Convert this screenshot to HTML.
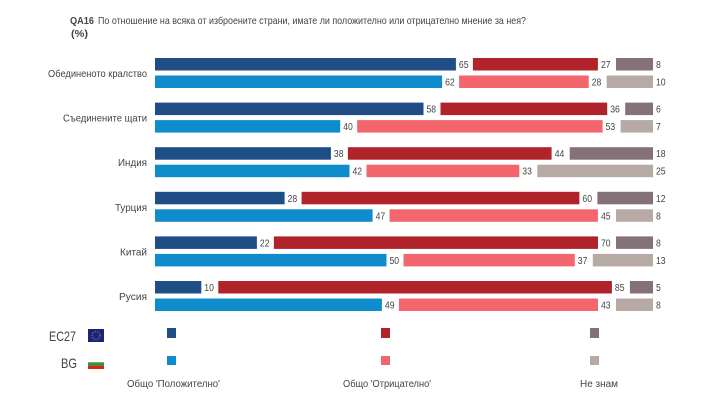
<!DOCTYPE html>
<html><head><meta charset="utf-8"><style>
html,body{margin:0;padding:0;background:#fff;width:728px;height:416px;overflow:hidden}
svg{display:block}
text{font-family:"Liberation Sans Narrow","Liberation Sans",sans-serif;fill:#444}
</style></head><body>
<svg id="s" width="728" height="416" viewBox="0 0 728 416" xmlns="http://www.w3.org/2000/svg">
<text x="70" y="24" font-size="10.5" font-weight="bold" fill="#333" textLength="24" lengthAdjust="spacingAndGlyphs">QA16</text>
<text x="98" y="24" font-size="10.5" fill="#444" textLength="428" lengthAdjust="spacingAndGlyphs">По отношение на всяка от изброените страни, имате ли положително или отрицателно мнение за нея?</text>
<text x="71" y="37" font-size="10.5" font-weight="bold" fill="#333" textLength="17" lengthAdjust="spacingAndGlyphs">(%)</text>
<g id="bars"></g>
<text x="49" y="341" font-size="14" fill="#333" textLength="27" lengthAdjust="spacingAndGlyphs">EC27</text>
<rect x="88" y="329" width="16" height="13" fill="#1a237e"/>
<circle cx="96" cy="335.5" r="4" fill="none" stroke="#e8c800" stroke-width="0.8" stroke-dasharray="0.8 1.2"/>
<text x="61" y="368" font-size="14" fill="#333" textLength="16" lengthAdjust="spacingAndGlyphs">BG</text>
<rect x="88" y="359" width="16" height="3.4" fill="#fff" stroke="#ddd" stroke-width="0.3"/>
<rect x="88" y="362.3" width="16" height="3.4" fill="#2e9a3e"/>
<rect x="88" y="365.6" width="16" height="3.4" fill="#d9261c"/>
<rect x="167" y="328" width="9" height="10" fill="#1f4e87"/>
<rect x="167" y="356" width="9" height="9" fill="#0e8ccb"/>
<rect x="381" y="328" width="9" height="10" fill="#b0232a"/>
<rect x="381" y="356" width="9" height="9" fill="#f4666e"/>
<rect x="590" y="328" width="9" height="10" fill="#857278"/>
<rect x="590" y="356" width="9" height="9" fill="#b7a9a4"/>
<text x="127" y="387" font-size="10.5" textLength="93" lengthAdjust="spacingAndGlyphs">Общо 'Положително'</text>
<text x="343" y="387" font-size="10.5" textLength="88" lengthAdjust="spacingAndGlyphs">Общо 'Отрицателно'</text>
<text x="580" y="387" font-size="10.5" textLength="38" lengthAdjust="spacingAndGlyphs">Не знам</text>
</svg>
<script>
var rows=[["Обединеното кралство",[65,27,8],[62,28,10],99],
["Съединените щати",[58,36,6],[40,53,7],84],
["Индия",[38,44,18],[42,33,25],29],
["Турция",[28,60,12],[47,45,8],32],
["Китай",[22,70,8],[50,37,13],27],
["Русия",[10,85,5],[49,43,8],28]];
var cEC=["#1f4e87","#b0232a","#857278"],cBG=["#0e8ccb","#f4666e","#b7a9a4"];
var k=4.63,h="";
rows.forEach(function(r,i){
 var top=58+i*44.6;
 h+='<text x="'+(147-r[3])+'" y="'+(top+19)+'" font-size="10.5" textLength="'+r[3]+'" lengthAdjust="spacingAndGlyphs">'+r[0]+'</text>';
 [[r[1],cEC,top],[r[2],cBG,top+17.5]].forEach(function(s){
  var x=155,v=s[0];
  for(var j=0;j<3;j++){
   var w=v[j]*k;
   h+='<rect x="'+x.toFixed(1)+'" y="'+s[2].toFixed(1)+'" width="'+w.toFixed(1)+'" height="12.5" fill="'+s[1][j]+'"/>';
   var t=String(v[j]);
   h+='<text x="'+(x+w+3).toFixed(1)+'" y="'+(s[2]+10).toFixed(1)+'" font-size="10" textLength="'+(t.length*4.8)+'" lengthAdjust="spacingAndGlyphs">'+t+'</text>';
   x+=w+(j==0?17:18);
  }
 });
});
document.getElementById("bars").innerHTML=h;
</script>
</body></html>
